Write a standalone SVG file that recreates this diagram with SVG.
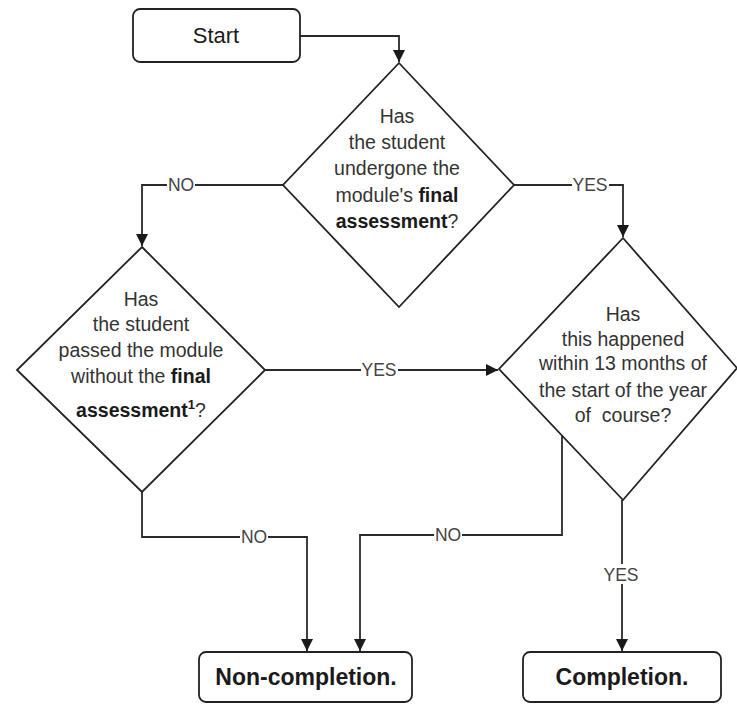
<svg xmlns="http://www.w3.org/2000/svg" width="737" height="704" viewBox="0 0 737 704">
<defs>
<marker id="arr" markerWidth="12" markerHeight="12" refX="10" refY="5" orient="auto" markerUnits="userSpaceOnUse" viewBox="0 0 10 10">
<path d="M0,0 L10,5 L0,10 Z" fill="#1a1a1a"/>
</marker>
<style>
.box{fill:#fff;stroke:#222;stroke-width:1.8}
.dia{fill:#fff;stroke:#222;stroke-width:1.8;stroke-linejoin:miter}
.edge{fill:none;stroke:#2a2a2a;stroke-width:1.8}
.t{font-family:"Liberation Sans",Arial,sans-serif;font-size:19.5px;fill:#333;text-anchor:middle}
.b{font-weight:bold;fill:#1a1a1a}
.big{font-family:"Liberation Sans",Arial,sans-serif;font-size:22px;fill:#1a1a1a;text-anchor:middle}
.end{font-size:23px}
.lbl{font-family:"Liberation Sans",Arial,sans-serif;font-size:17.5px;fill:#444;text-anchor:middle}
.bg{fill:#fff}
</style>
</defs>
<g id="connectors">
<path class="edge" d="M300,36 H399 V62" marker-end="url(#arr)"/>
<path class="edge" d="M283,185 H142 V246" marker-end="url(#arr)"/>
<path class="edge" d="M514,185 H623 V237" marker-end="url(#arr)"/>
<path class="edge" d="M265,370 H498" marker-end="url(#arr)"/>
<path class="edge" d="M142,492 V537 H307 V651" marker-end="url(#arr)"/>
<path class="edge" d="M562,436 V535 H360 V651" marker-end="url(#arr)"/>
<path class="edge" d="M622,500 V651" marker-end="url(#arr)"/>
<rect class="bg" x="167" y="176" width="28" height="18"/>
<text class="lbl" x="181" y="191">NO</text>
<rect class="bg" x="572" y="176" width="37" height="18"/>
<text class="lbl" x="590" y="191">YES</text>
<rect class="bg" x="361" y="361" width="37" height="18"/>
<text class="lbl" x="379" y="376">YES</text>
<rect class="bg" x="240" y="528" width="28" height="18"/>
<text class="lbl" x="254" y="543">NO</text>
<rect class="bg" x="434" y="526" width="28" height="18"/>
<text class="lbl" x="448" y="541">NO</text>
<rect class="bg" x="603" y="564" width="37" height="20"/>
<text class="lbl" x="621" y="581">YES</text>
</g>
<g id="start">
<rect class="box" x="133" y="9" width="167" height="53" rx="7"/>
<text class="big" x="216" y="43">Start</text>
</g>
<g id="q1">
<polygon class="dia" points="399,63 514,185 399,307 283,185"/>
<text class="t" x="397" y="123">Has</text>
<text class="t" x="397" y="149">the student</text>
<text class="t" x="397" y="175">undergone the</text>
<text class="t" x="397" y="202">module's <tspan class="b">final</tspan></text>
<text class="t" x="397" y="228"><tspan class="b">assessment</tspan>?</text>
</g>
<g id="q2">
<polygon class="dia" points="142,247 265,370 142,492 17,370"/>
<text class="t" x="141" y="306">Has</text>
<text class="t" x="141" y="331">the student</text>
<text class="t" x="141" y="357">passed the module</text>
<text class="t" x="141" y="383">without the <tspan class="b">final</tspan></text>
<text class="t" x="141" y="417"><tspan class="b">assessment</tspan><tspan class="b" font-size="13" dy="-8">1</tspan><tspan dy="8">?</tspan></text>
</g>
<g id="q3">
<polygon class="dia" points="623,238 737,368 623,500 499,369"/>
<text class="t" x="623" y="321">Has</text>
<text class="t" x="623" y="346">this happened</text>
<text class="t" x="623" y="370">within 13 months of</text>
<text class="t" x="623" y="397">the start of the year</text>
<text class="t" x="623" y="422" xml:space="preserve">of  course?</text>
</g>
<g id="noncompletion">
<rect class="box" x="199" y="652" width="213" height="50" rx="7"/>
<text class="big b end" x="306" y="685">Non-completion.</text>
</g>
<g id="completion">
<rect class="box" x="523" y="652" width="198" height="50" rx="7"/>
<text class="big b end" x="622" y="685">Completion.</text>
</g>
</svg>
